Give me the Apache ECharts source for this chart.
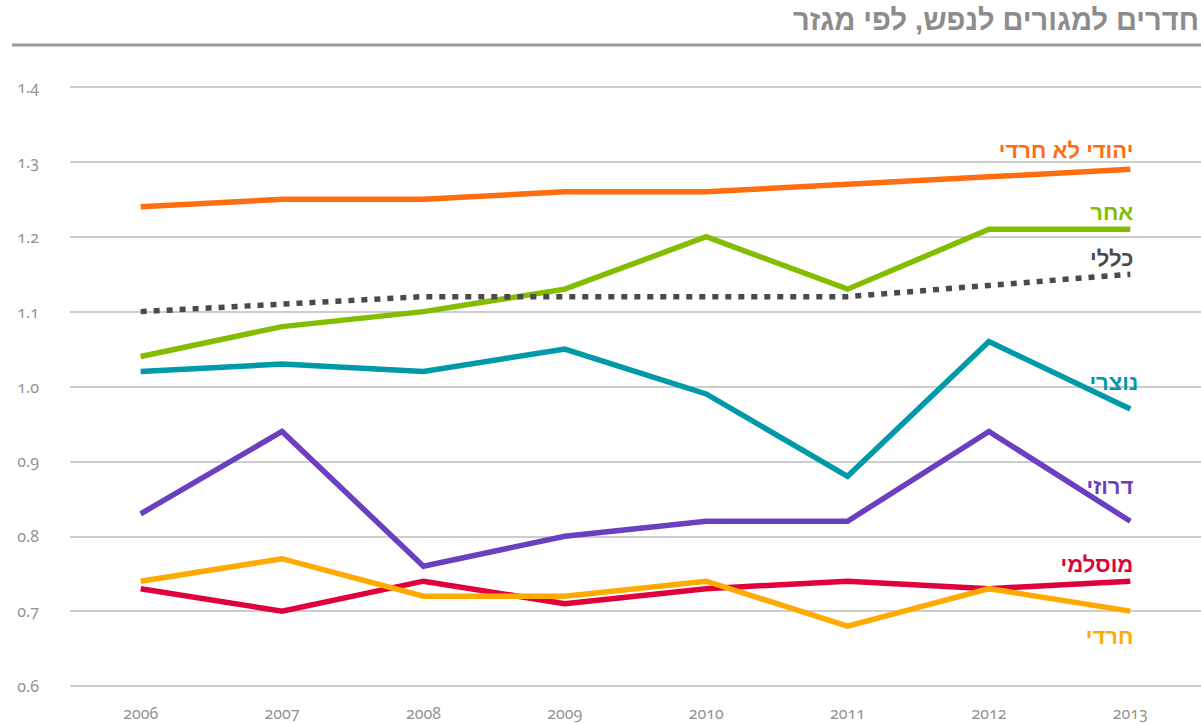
<!DOCTYPE html>
<html>
<head>
<meta charset="utf-8">
<script src="https://cdn.jsdelivr.net/npm/echarts@6/dist/echarts.min.js"></script>
<style>
  html, body { margin: 0; padding: 0; background: #fff; }
  #chart { width: 1201px; height: 724px; }
  /* old-style figures for the axis numbers */
  #chart svg text { font-feature-settings: "onum" 1 !important; font-variant-numeric: oldstyle-nums !important; }
</style>
</head>
<body>
<div id="chart"></div>
<script>
// Rooms per person by sector, 2006-2013
const years = ['2006', '2007', '2008', '2009', '2010', '2011', '2012', '2013'];

const jewishNonHaredi = [1.24, 1.25, 1.25, 1.26, 1.26, 1.27, 1.28, 1.29];
const other           = [1.04, 1.08, 1.10, 1.13, 1.20, 1.13, 1.21, 1.21];
const overall         = [1.10, 1.11, 1.12, 1.12, 1.12, 1.12, 1.135, 1.15];
const christian       = [1.02, 1.03, 1.02, 1.05, 0.99, 0.88, 1.06, 0.97];
const druze           = [0.83, 0.94, 0.76, 0.80, 0.82, 0.82, 0.94, 0.82];
const muslim          = [0.73, 0.70, 0.74, 0.71, 0.73, 0.74, 0.73, 0.74];
const haredi          = [0.74, 0.77, 0.72, 0.72, 0.74, 0.68, 0.73, 0.70];

const yTicks = { min: 0.6, max: 1.4, interval: 0.1 };

const titleText = 'חדרים למגורים לנפש, לפי מגזר';

// name, values, colour, dashed, label offset from the last point [dx, dy]
const lines = [
  { name: 'מוסלמי',        data: muslim,          color: '#e0003c', dashed: false, off: [3, -17] },
  { name: 'דרוזי',         data: druze,           color: '#6a40c0', dashed: false, off: [3, -35] },
  { name: 'נוצרי',         data: christian,       color: '#0099a8', dashed: false, off: [8, -26] },
  { name: 'אחר',           data: other,           color: '#84bd00', dashed: false, off: [3, -17] },
  { name: 'כללי',          data: overall,         color: '#4a4a4a', dashed: true,  off: [3, -16] },
  { name: 'יהודי לא חרדי', data: jewishNonHaredi, color: '#ff6d10', dashed: false, off: [3, -19] },
  { name: 'חרדי',          data: haredi,          color: '#ffaa00', dashed: false, off: [3, 25] }
];

const chart = echarts.init(document.getElementById('chart'), null, { renderer: 'svg' });

const labelFont = 'bold 22px "Liberation Sans", "DejaVu Sans", sans-serif';
const numFont = '"Noto Sans", Lato, sans-serif';

chart.setOption({
  animation: false,
  backgroundColor: '#ffffff',
  grid: { left: 70, right: -4, top: 87, bottom: 38 },
  xAxis: {
    type: 'category',
    data: years,
    boundaryGap: true,
    axisLine: { show: false },
    axisTick: { show: false },
    axisLabel: {
      margin: 19,
      color: '#939393',
      fontSize: 16,
      fontFamily: numFont
    }
  },
  yAxis: {
    type: 'value',
    min: yTicks.min,
    max: yTicks.max,
    interval: yTicks.interval,
    axisLine: { show: false },
    axisTick: { show: false },
    splitLine: { lineStyle: { color: '#bdbdbd', width: 1.5 } },
    axisLabel: {
      margin: 31,
      color: '#939393',
      fontSize: 16,
      fontFamily: numFont,
      formatter: v => v.toFixed(1)
    }
  },
  series: lines.map(l => ({
    type: 'line',
    name: l.name,
    data: l.data,
    showSymbol: false,
    symbol: 'none',
    lineStyle: {
      color: l.color,
      width: 5.5,
      type: l.dashed ? [6, 7] : 'solid',
      join: 'miter',
      cap: 'butt'
    },
    z: 2
  }))
});

// Series names placed next to the end of each line
const last = years.length - 1;
const graphics = [
  {
    type: 'text',
    right: 2,
    top: 5,
    style: {
      text: titleText,
      fill: '#8c8c8c',
      font: 'bold 29px "Liberation Sans", "DejaVu Sans", sans-serif'
    }
  },
  {
    type: 'line',
    shape: { x1: 12, y1: 45, x2: 1201, y2: 45 },
    style: { stroke: '#999999', lineWidth: 3 }
  }
];
lines.forEach((l, i) => {
  const p = chart.convertToPixel({ seriesIndex: i }, [years[last], l.data[last]]);
  graphics.push({
    type: 'text',
    x: p[0] + l.off[0],
    y: p[1] + l.off[1],
    style: {
      text: l.name,
      fill: l.color,
      font: labelFont,
      align: 'right',
      verticalAlign: 'middle'
    },
    z: 10
  });
});
chart.setOption({ graphic: graphics });
</script>
</body>
</html>
